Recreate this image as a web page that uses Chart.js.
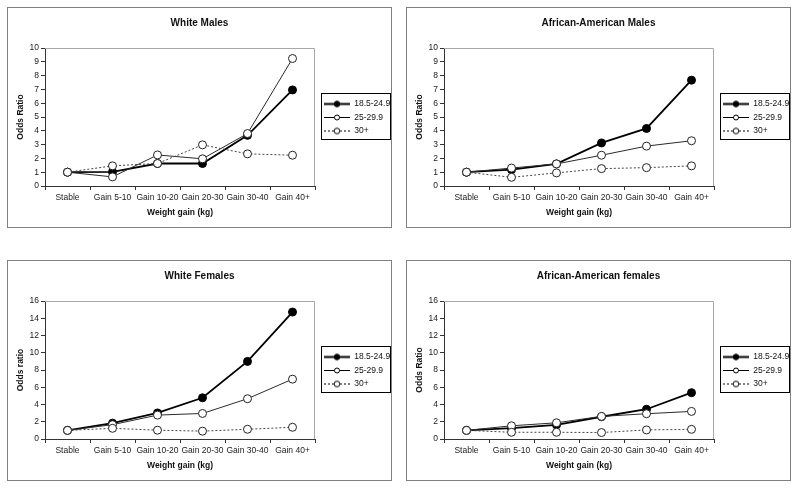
<!DOCTYPE html>
<html>
<head>
<meta charset="utf-8">
<script src="https://cdn.jsdelivr.net/npm/chart.js@4.4.1/dist/chart.umd.min.js"></script>
<style>
  body { margin: 0; background: #fff; width: 800px; height: 489px; position: relative; overflow: hidden; }
  .panel { position: absolute; width: 383px; height: 219px; border: 1px solid #808080; background: #fff; }
  .panel canvas { display: block; }
</style>
</head>
<body>
<div class="panel" style="left:7px;top:7px"><canvas id="wm" width="383" height="219"></canvas></div>
<div class="panel" style="left:406px;top:7px"><canvas id="am" width="383" height="219"></canvas></div>
<div class="panel" style="left:7px;top:260px"><canvas id="wf" width="383" height="219"></canvas></div>
<div class="panel" style="left:406px;top:260px"><canvas id="af" width="383" height="219"></canvas></div>
<script>
const categories = ['Stable', 'Gain 5-10', 'Gain 10-20', 'Gain 20-30', 'Gain 30-40', 'Gain 40+'];
const seriesLabels = ['18.5-24.9', '25-29.9', '30+'];

// white males
const wmNormal = [1.0, 1.02, 1.63, 1.63, 3.67, 6.96];
const wmOver = [1.0, 0.66, 2.25, 1.97, 3.8, 9.24];
const wmObese = [1.0, 1.46, 1.63, 2.98, 2.33, 2.23];

// african-american males
const amNormal = [1.0, 1.18, 1.6, 3.12, 4.17, 7.67];
const amOver = [1.0, 1.3, 1.6, 2.23, 2.89, 3.28];
const amObese = [1.0, 0.63, 0.95, 1.26, 1.33, 1.46];

// white females
const wfNormal = [1.0, 1.84, 3.02, 4.78, 9.0, 14.72];
const wfOver = [1.0, 1.66, 2.77, 2.96, 4.67, 6.94];
const wfObese = [1.0, 1.24, 1.02, 0.91, 1.13, 1.36];

// african-american females
const afNormal = [1.0, 1.25, 1.63, 2.58, 3.45, 5.37];
const afOver = [1.0, 1.53, 1.88, 2.62, 2.93, 3.2];
const afObese = [1.0, 0.78, 0.78, 0.75, 1.05, 1.12];

const FONT = 'Liberation Sans, Arial, sans-serif';

function legendIcon(width, dash, filled, radius) {
  const c = document.createElement('canvas');
  c.width = 30; c.height = 9;
  const ctx = c.getContext('2d');
  ctx.strokeStyle = '#000';
  ctx.lineWidth = width;
  ctx.setLineDash(dash);
  ctx.beginPath();
  ctx.moveTo(4, 4.5); ctx.lineTo(30, 4.5);
  ctx.stroke();
  ctx.setLineDash([]);
  ctx.lineWidth = 1;
  ctx.beginPath();
  ctx.arc(17, 4.5, radius, 0, Math.PI * 2);
  ctx.fillStyle = filled ? '#000' : '#fff';
  ctx.fill();
  ctx.stroke();
  return c;
}

const icons = [
  legendIcon(2, [], true, 2.8),
  legendIcon(1, [], false, 2.5),
  legendIcon(1, [2, 2], false, 2.8)
];

// light frame on top/right of plot area + box around legend
const framePlugin = {
  id: 'frame',
  beforeDatasetsDraw(chart) {
    const {ctx, chartArea: a} = chart;
    ctx.save();
    ctx.strokeStyle = '#a8a8a8';
    ctx.lineWidth = 1;
    ctx.beginPath();
    ctx.moveTo(a.left, a.top + 0.5);
    ctx.lineTo(a.right - 0.5, a.top + 0.5);
    ctx.lineTo(a.right - 0.5, a.bottom);
    ctx.stroke();
    ctx.restore();
  },
  afterDraw(chart) {
    const lg = chart.legend;
    if (!lg || !lg.legendHitBoxes.length) return;
    const hb = lg.legendHitBoxes;
    const first = hb[0], last = hb[hb.length - 1];
    const ctx = chart.ctx;
    const x0 = Math.round(first.left) + 1.5;
    const y0 = Math.round(first.top + first.height / 2 - 11) + 0.5;
    const y1 = Math.round(last.top + last.height / 2 + 8) + 0.5;
    const x1 = Math.round(lg.right) - 0.5;
    ctx.save();
    ctx.strokeStyle = '#000';
    ctx.lineWidth = 1;
    ctx.strokeRect(x0, y0, x1 - x0, y1 - y0);
    ctx.restore();
  }
};

function makePanel(id, title, yTitle, yMax, yStep, normal, over, obese) {
  const ctx = document.getElementById(id).getContext('2d');
  return new Chart(ctx, {
    type: 'line',
    data: {
      labels: categories,
      datasets: [
        {
          label: seriesLabels[0], data: normal, order: 3,
          borderColor: '#000', borderWidth: 1.8,
          pointBackgroundColor: '#000', pointBorderColor: '#000',
          pointRadius: 4, pointBorderWidth: 1, pointStyle: 'circle'
        },
        {
          label: seriesLabels[1], data: over, order: 2,
          borderColor: '#2a2a2a', borderWidth: 1,
          pointBackgroundColor: '#fff', pointBorderColor: '#222',
          pointRadius: 4, pointBorderWidth: 1, pointStyle: 'circle'
        },
        {
          label: seriesLabels[2], data: obese, order: 1,
          borderColor: '#444', borderWidth: 1, borderDash: [2, 2],
          pointBackgroundColor: '#fff', pointBorderColor: '#222',
          pointRadius: 4, pointBorderWidth: 1, pointStyle: 'circle'
        }
      ]
    },
    options: {
      responsive: false,
      animation: false,
      devicePixelRatio: 1,
      layout: { padding: 0 },
      elements: { line: { tension: 0 } },
      plugins: {
        tooltip: { enabled: false },
        title: {
          display: true, text: title, color: '#111',
          font: { family: FONT, size: 10, weight: 'bold' },
          padding: { top: 9, bottom: 19 }
        },
        legend: {
          position: 'right',
          maxWidth: 76,
          labels: {
            usePointStyle: true,
            pointStyleWidth: 30,
            padding: 5,
            color: '#111',
            font: { family: FONT, size: 8.5 },
            sort: (a, b) => a.datasetIndex - b.datasetIndex,
            generateLabels(chart) {
              return chart.data.datasets.map((ds, i) => ({
                text: ds.label, datasetIndex: i, pointStyle: icons[i],
                fillStyle: '#000', strokeStyle: '#000', lineWidth: 0,
                fontColor: '#111', hidden: false
              }));
            }
          }
        }
      },
      scales: {
        x: {
          offset: true,
          grid: { display: true, drawOnChartArea: false, offset: true, tickLength: 4, color: '#333' },
          border: { color: '#333' },
          ticks: { color: '#222', font: { family: FONT, size: 8.5 }, padding: 3, maxRotation: 0, autoSkip: false },
          title: {
            display: true, text: 'Weight gain (kg)', color: '#111',
            font: { family: FONT, size: 8.5, weight: 'bold' },
            padding: { top: 0, bottom: 9 }
          },
          afterFit(scale) { scale.height = 41; }
        },
        y: {
          min: 0, max: yMax,
          grid: { display: true, drawOnChartArea: false, tickLength: 4, color: '#333' },
          border: { color: '#333' },
          ticks: { stepSize: yStep, color: '#222', font: { family: FONT, size: 8.5 }, padding: 2 },
          title: {
            display: true, text: yTitle, color: '#111',
            font: { family: FONT, size: 8.5, weight: 'bold' },
            padding: { top: 8, bottom: 0 }
          },
          afterFit(scale) { scale.width = 37; }
        }
      }
    },
    plugins: [framePlugin]
  });
}

makePanel('wm', 'White Males', 'Odds Ratio', 10, 1, wmNormal, wmOver, wmObese);
makePanel('am', 'African-American Males', 'Odds Ratio', 10, 1, amNormal, amOver, amObese);
makePanel('wf', 'White Females', 'Odds ratio', 16, 2, wfNormal, wfOver, wfObese);
makePanel('af', 'African-American females', 'Odds Ratio', 16, 2, afNormal, afOver, afObese);
</script>
</body>
</html>
